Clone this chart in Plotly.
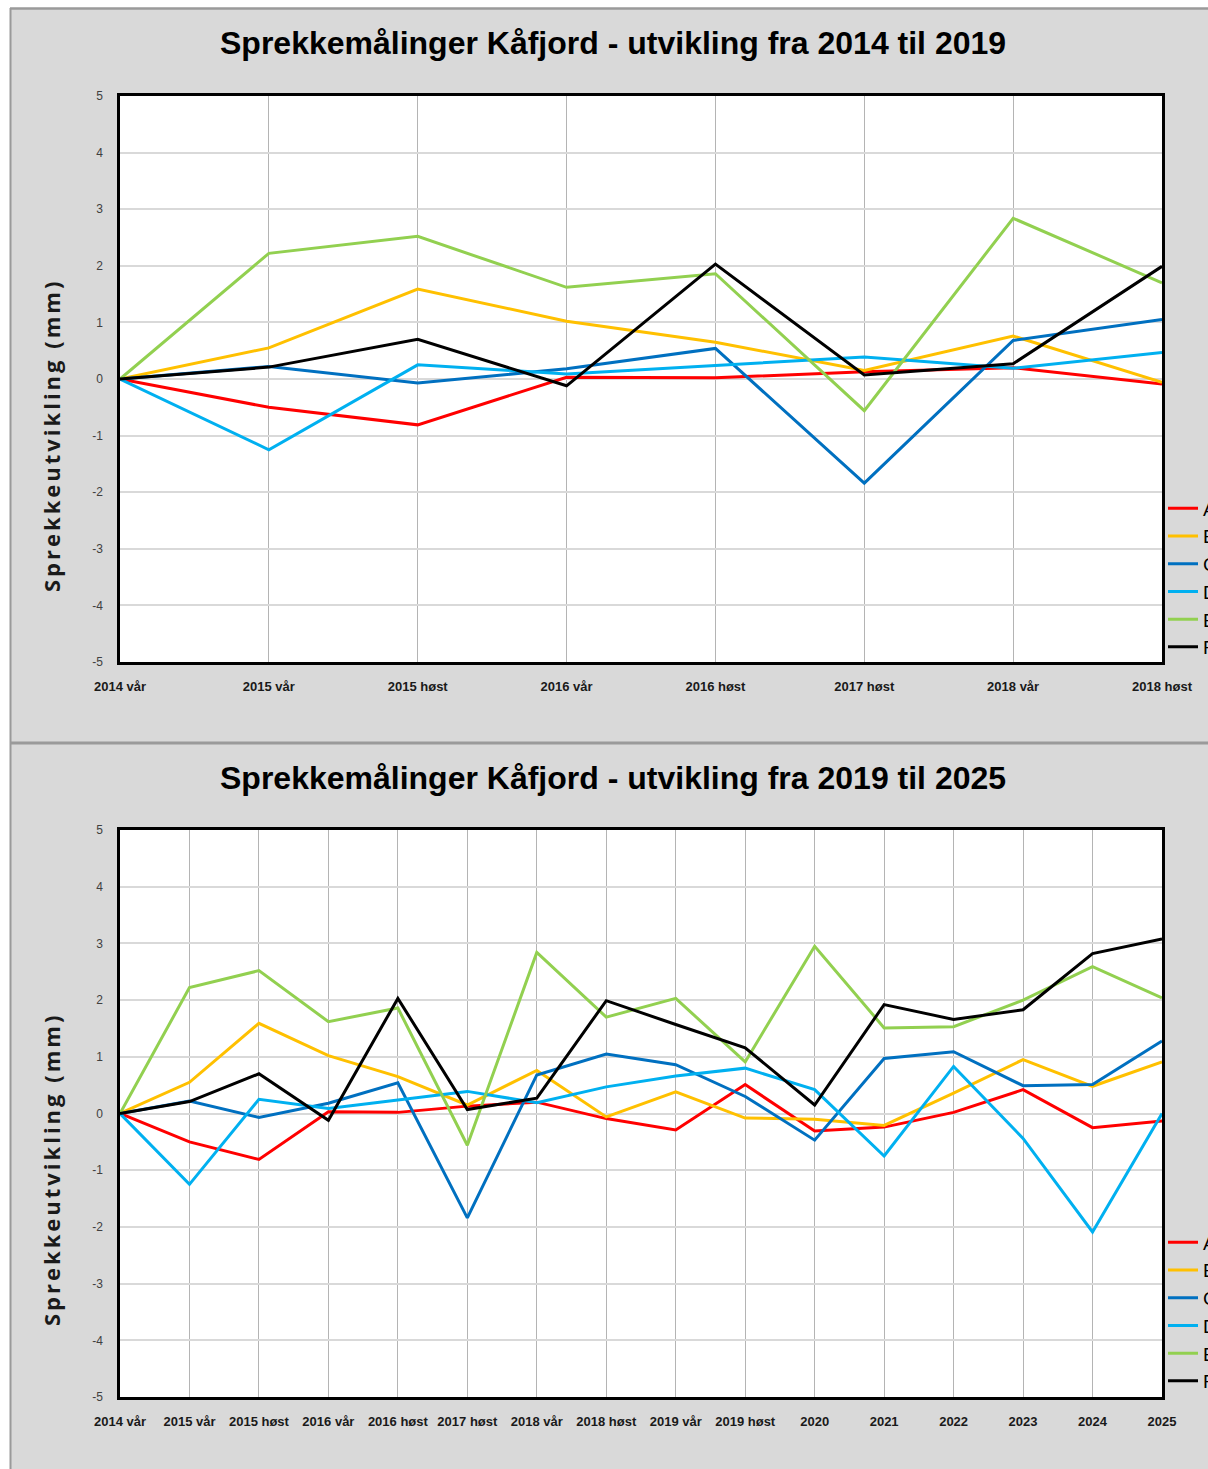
import plotly.graph_objects as go

# Measurement campaigns (x categories)
categories = ["2014 vår", "2015 vår", "2015 høst", "2016 vår", "2016 høst", "2017 høst",
              "2018 vår", "2018 høst", "2019 vår", "2019 høst", "2020", "2021",
              "2022", "2023", "2024", "2025"]

# Crack development per gauge (mm)
gauge_a = [0, -0.50, -0.81, 0.03, 0.02, 0.13, 0.20, -0.09, -0.29, 0.51, -0.31, -0.24, 0.02, 0.42, -0.25, -0.13]
gauge_b = [0, 0.55, 1.59, 1.02, 0.65, 0.15, 0.76, -0.06, 0.38, -0.08, -0.10, -0.21, 0.36, 0.95, 0.48, 0.91]
gauge_c = [0, 0.22, -0.07, 0.18, 0.54, -1.84, 0.68, 1.05, 0.86, 0.30, -0.47, 0.97, 1.09, 0.49, 0.51, 1.28]
gauge_d = [0, -1.25, 0.25, 0.09, 0.24, 0.39, 0.19, 0.47, 0.66, 0.80, 0.42, -0.75, 0.83, -0.44, -2.09, 0.00]
gauge_e = [0, 2.22, 2.52, 1.62, 1.86, -0.56, 2.84, 1.70, 2.03, 0.91, 2.95, 1.51, 1.53, 2.00, 2.59, 2.04]
gauge_f = [0, 0.21, 0.70, -0.12, 2.03, 0.07, 0.27, 1.99, 1.57, 1.16, 0.15, 1.92, 1.66, 1.83, 2.82, 3.08]

series_names = ["A", "B", "C", "D", "E", "F"]
series_values = [gauge_a, gauge_b, gauge_c, gauge_d, gauge_e, gauge_f]
series_colors = ["#ff0000", "#ffc000", "#0070c0", "#00b0f0", "#92d050", "#000000"]

y_ticks = [-5, -4, -3, -2, -1, 0, 1, 2, 3, 4, 5]
y_tick_labels = ["-5", "-4", "-3", "-2", "-1", "0", "1", "2", "3", "4", "5"]
top_count = 8  # first chart covers 2014 vår .. 2018 høst

W, H = 1208, 1469
SANS = "Liberation Sans, Arial, sans-serif"


def px_x(x):
    return x / W


def px_y(y):
    return 1 - y / H


fig = go.Figure()

for name, vals, col in zip(series_names, series_values, series_colors):
    fig.add_trace(go.Scatter(
        x=categories[:top_count], y=vals[:top_count], name=name, mode="lines",
        line=dict(color=col, width=3), xaxis="x", yaxis="y", legend="legend"))
    fig.add_trace(go.Scatter(
        x=categories, y=vals, name=name, mode="lines",
        line=dict(color=col, width=3), xaxis="x2", yaxis="y2", legend="legend2"))

common_x = dict(
    type="category", showgrid=True, gridcolor="#b4b4b4", gridwidth=1,
    showline=True, mirror=True, linecolor="#000000", linewidth=2.5,
    ticks="", ticklabelstandoff=11, tickangle=0, automargin=False,
    tickfont=dict(family=SANS, size=13, color="#1a1a1a", weight="bold"),
    fixedrange=True,
)
common_y = dict(
    range=[-5, 5], tickvals=y_ticks, ticktext=y_tick_labels,
    showgrid=True, gridcolor="#d9d9d9", gridwidth=1.5,
    zeroline=False, showline=True, mirror=True, linecolor="#000000", linewidth=2.5,
    ticks="", ticklabelstandoff=12, automargin=False,
    tickfont=dict(family=SANS, size=12, color="#404040"),
    fixedrange=True,
)

legend_style = dict(xanchor="left", yanchor="middle", bgcolor="rgba(0,0,0,0)",
                    font=dict(family=SANS, size=19, color="#000000"),
                    itemclick=False, itemdoubleclick=False)

fig.update_layout(
    width=W, height=H,
    margin=dict(l=0, r=0, t=0, b=0, autoexpand=False),
    paper_bgcolor="#d9d9d9", plot_bgcolor="#ffffff",
    showlegend=True,
    xaxis=dict(common_x, domain=[px_x(120), px_x(1162)], anchor="y",
               range=[0, top_count - 1]),
    yaxis=dict(common_y, domain=[px_y(662), px_y(96)], anchor="x"),
    xaxis2=dict(common_x, domain=[px_x(120), px_x(1162)], anchor="y2",
                range=[0, len(categories) - 1]),
    yaxis2=dict(common_y, domain=[px_y(1397), px_y(830)], anchor="x2"),
    legend=dict(legend_style, x=px_x(1163), y=px_y(578)),
    legend2=dict(legend_style, x=px_x(1163), y=px_y(1312)),
)

# White margin outside the two chart panels and the panel borders
border = "#9a9a9a"
fig.add_shape(type="rect", xref="paper", yref="paper", x0=0, x1=px_x(10), y0=0, y1=1,
              fillcolor="#ffffff", line=dict(width=0), layer="below")
fig.add_shape(type="rect", xref="paper", yref="paper", x0=0, x1=1, y0=px_y(8), y1=1,
              fillcolor="#ffffff", line=dict(width=0), layer="below")
fig.add_shape(type="line", xref="paper", yref="paper", x0=px_x(10), x1=1, y0=px_y(8.5), y1=px_y(8.5),
              line=dict(color=border, width=2.5), layer="below")
fig.add_shape(type="line", xref="paper", yref="paper", x0=px_x(10.5), x1=px_x(10.5), y0=0, y1=px_y(8),
              line=dict(color=border, width=2), layer="below")
fig.add_shape(type="line", xref="paper", yref="paper", x0=px_x(10), x1=1, y0=px_y(743), y1=px_y(743),
              line=dict(color=border, width=3), layer="below")

titles = [
    ("Sprekkemålinger Kåfjord - utvikling fra 2014 til 2019", 43, 436),
    ("Sprekkemålinger Kåfjord - utvikling fra 2019 til 2025", 778, 1170),
]
for text, ty, axis_mid in titles:
    fig.add_annotation(text=text, xref="paper", yref="paper", x=px_x(613), y=px_y(ty),
                       xanchor="center", yanchor="middle", showarrow=False,
                       font=dict(family=SANS, size=32, color="#000000", weight="bold"))
    fig.add_annotation(text='<span style="letter-spacing:3px">Sprekkeutvikling (mm)</span>',
                       xref="paper", yref="paper",
                       x=px_x(51), y=px_y(axis_mid), xanchor="center", yanchor="middle",
                       textangle=-90, showarrow=False,
                       font=dict(family="Open Sans", size=22, color="#1a1a1a", weight="bold"))

fig.write_html("out.html")
